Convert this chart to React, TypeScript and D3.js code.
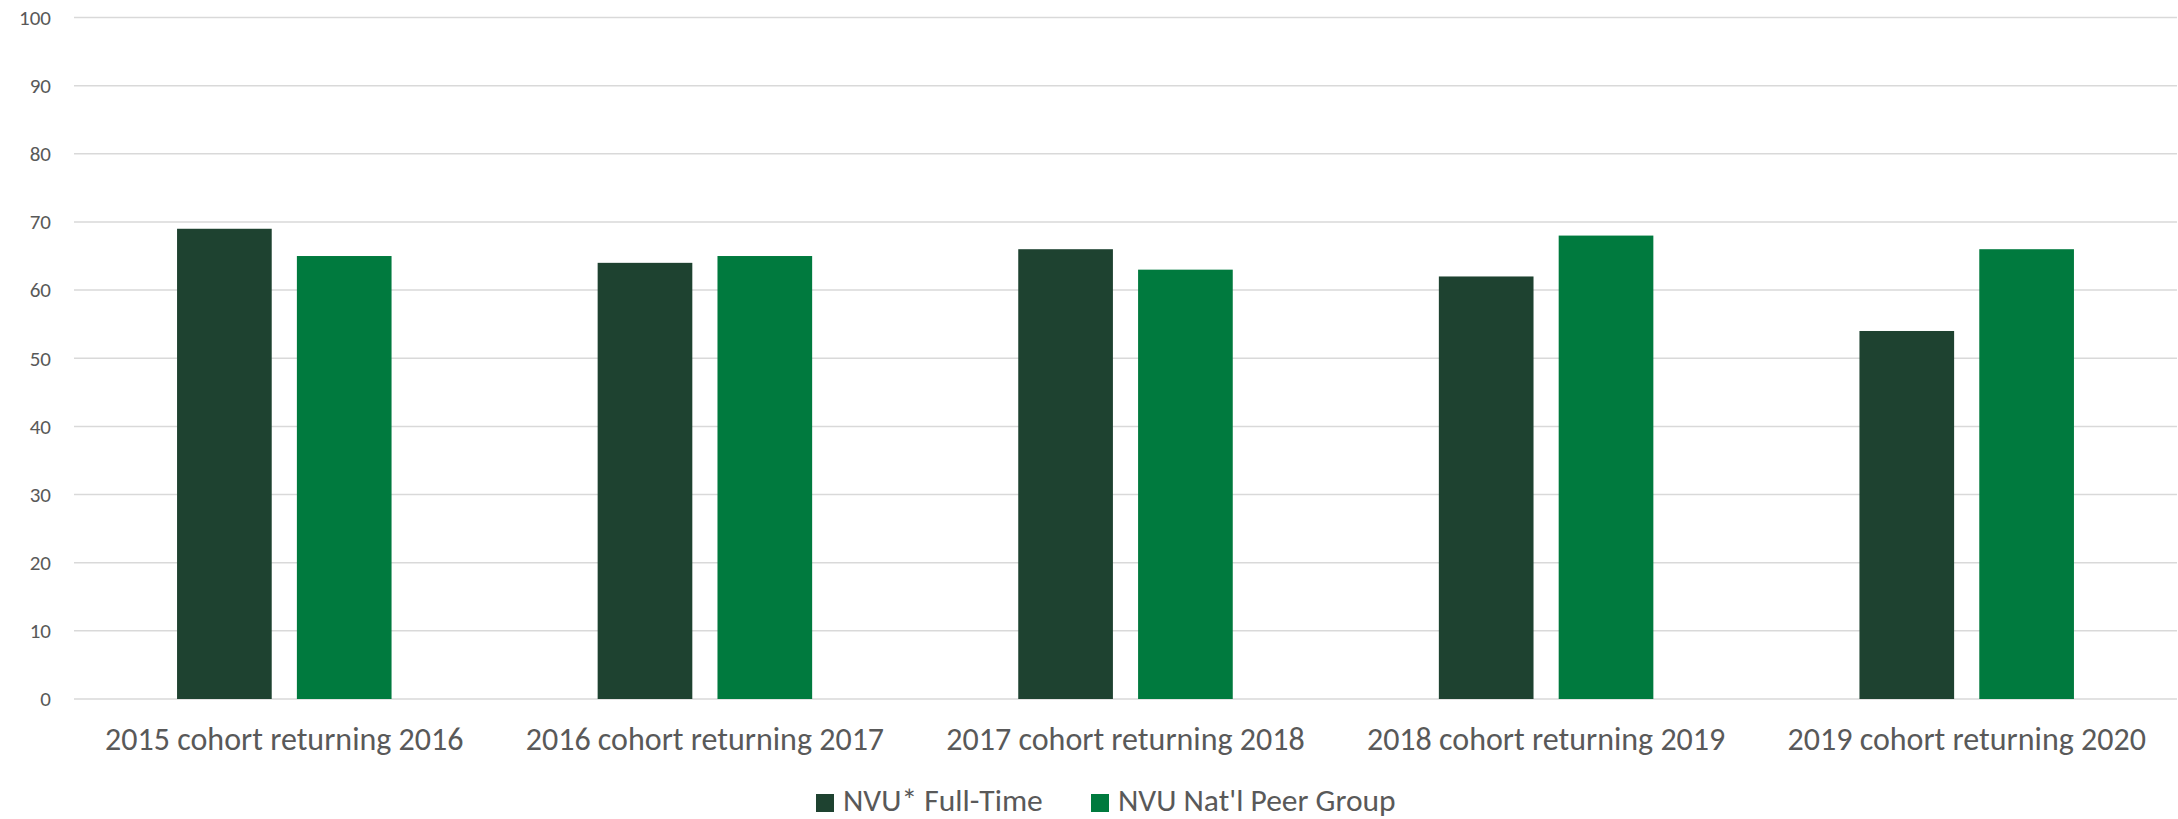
import { useEffect, useRef } from 'react';
import * as d3 from 'd3';

const categories = [
  '2015 cohort returning 2016',
  '2016 cohort returning 2017',
  '2017 cohort returning 2018',
  '2018 cohort returning 2019',
  '2019 cohort returning 2020',
];
const seriesNames = ['NVU* Full-Time', "NVU Nat'l Peer Group"];
const fullTime = [69, 64, 66, 62, 54];
const peerGroup = [65, 65, 63, 68, 66];
const yTicks = [0, 10, 20, 30, 40, 50, 60, 70, 80, 90, 100];

const colors = ['#1e4230', '#007a3e'];
const FONT = 'Carlito, Calibri, Lato, sans-serif';

const App = () => {
  const svgRef = useRef<SVGSVGElement>(null);
  const width = 2178;
  const height = 819;

  useEffect(() => {
    if (!svgRef.current) return;
    const svg = d3.select(svgRef.current);
    svg.selectAll('*').remove();

    const margin = { top: 17.5, right: 1, bottom: 120, left: 74 };
    const innerW = width - margin.left - margin.right;
    const innerH = height - margin.top - margin.bottom;
    const g = svg.append('g').attr('transform', `translate(${margin.left},${margin.top})`);

    const x0 = d3.scaleBand().domain(categories).range([0, innerW]).padding(0);
    const y = d3.scaleLinear().domain([0, 100]).range([innerH, 0]);

    // Gridlines
    g.selectAll('.grid')
      .data(yTicks)
      .join('line')
      .attr('x1', 0)
      .attr('x2', innerW)
      .attr('y1', d => y(d))
      .attr('y2', d => y(d))
      .attr('stroke', '#d9d9d9')
      .attr('stroke-width', 1.5);

    // Y tick labels
    g.selectAll('.ytick')
      .data(yTicks)
      .join('text')
      .attr('x', -23)
      .attr('y', d => y(d))
      .attr('dy', '0.35em')
      .attr('text-anchor', 'end')
      .style('font-family', FONT)
      .style('font-size', '21px')
      .style('fill', '#595959')
      .text(d => d);

    const rows = categories.map((c, i) => ({ c, vals: [fullTime[i], peerGroup[i]] }));

    const groups = g.selectAll('.cat')
      .data(rows)
      .join('g')
      .attr('transform', d => `translate(${x0(d.c)},0)`);

    const bw = x0.bandwidth();
    const x1 = d3.scaleBand()
      .domain(seriesNames)
      .range([bw / 2 - 107.25, bw / 2 + 107.25])
      .paddingInner(0.21)
      .paddingOuter(0);

    groups.selectAll('rect')
      .data(d => d.vals.map((v, j) => ({ s: seriesNames[j], v, j })))
      .join('rect')
      .attr('x', d => x1(d.s) || 0)
      .attr('y', d => y(d.v))
      .attr('width', x1.bandwidth())
      .attr('height', d => innerH - y(d.v))
      .attr('fill', d => colors[d.j]);

    // Category labels
    g.selectAll('.xlabel')
      .data(categories)
      .join('text')
      .attr('x', d => (x0(d) || 0) + bw / 2)
      .attr('y', innerH + 51)
      .attr('text-anchor', 'middle')
      .style('font-family', FONT)
      .style('font-size', '32px')
      .style('fill', '#595959')
      .text(d => d);

    // Legend
    const legendX = [816, 1091];
    const legend = svg.append('g');
    seriesNames.forEach((name, i) => {
      legend.append('rect')
        .attr('x', legendX[i])
        .attr('y', 794)
        .attr('width', 18)
        .attr('height', 18)
        .attr('fill', colors[i]);
      legend.append('text')
        .attr('x', legendX[i] + 27)
        .attr('y', 811)
        .style('font-family', FONT)
        .style('font-size', '31.5px')
        .style('fill', '#595959')
        .text(name);
    });
  }, []);

  return (
    <svg
      ref={svgRef}
      width={width}
      height={height}
      style={{ position: 'absolute', left: 0, top: 0, background: '#fff' }}
    />
  );
};

export default App;
